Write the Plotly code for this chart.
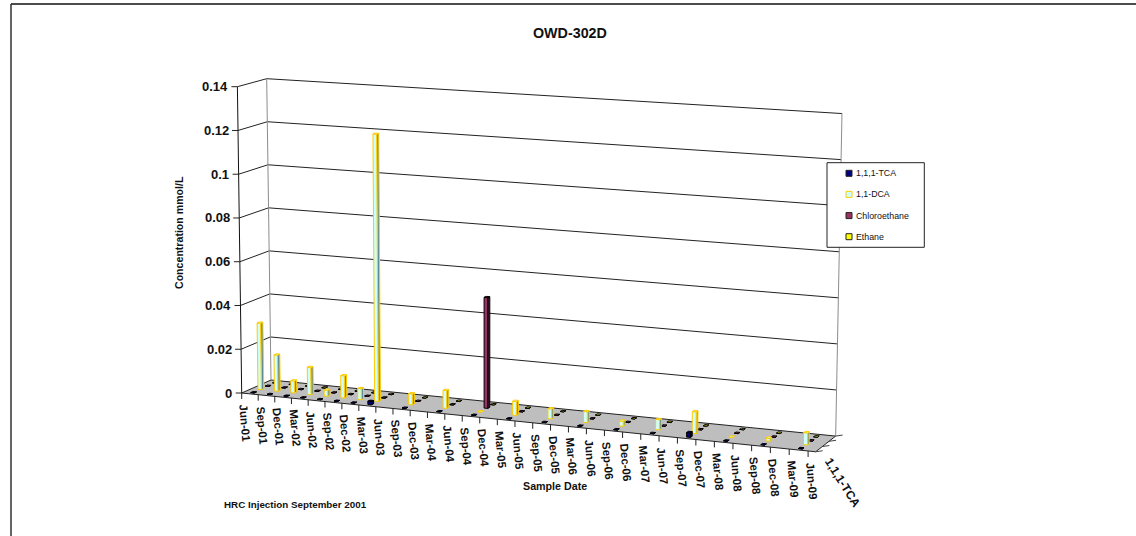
import plotly.graph_objects as go

# ---------- data ----------
date_labels = ["Jun-01","Sep-01","Dec-01","Mar-02","Jun-02","Sep-02","Dec-02","Mar-03","Jun-03",
               "Sep-03","Dec-03","Mar-04","Jun-04","Sep-04","Dec-04","Mar-05","Jun-05","Sep-05",
               "Dec-05","Mar-06","Jun-06","Sep-06","Dec-06","Mar-07","Jun-07","Sep-07","Dec-07",
               "Mar-08","Jun-08","Sep-08","Dec-08","Mar-09","Jun-09"]
N = None
tca =    [N,0,0,0,0,0,0,0,0.0015,N,0,N,0,N,0,N,0,N,0,N,0,N,0,N,0,N,0.002,N,0,N,0,N,0]
dca =    [N,0.0305,0.0166,0.0055,0.0124,0.0028,0.0101,0.005,0.121,N,0.005,N,0.008,N,0,N,0.0062,N,
          0.0045,N,0.0048,N,0.0022,N,0.0045,N,0.0095,N,0,N,0.0012,N,0.0052]
chloro = [N,0,0,0,0,0,0,0,0,N,0,N,0,N,0.0497,N,0,N,0,N,0,N,0,N,0,N,0,N,0,N,0,N,0]
ethane = [N,0,0,0,0,0,0,0,0,N,0,N,0,N,0,N,0,N,0,N,0,N,0,N,0,N,0,N,0,N,0,N,0]
value_ticks = [0,0.02,0.04,0.06,0.08,0.1,0.12,0.14]
value_tick_text = ["0","0.02","0.04","0.06","0.08","0.1","0.12","0.14"]
title = "OWD-302D"
y_title = "Concentration mmol/L"
x_title = "Sample Date"
note = "HRC Injection September 2001"
depth_label = "1,1,1-TCA"

# ---------- 3-D box projection ----------
VMAX = 0.14
F0, F1, B0, B1 = (241.7,393.0), (815.0,451.7), (271.0,380.0), (835.0,436.0)
TF0, TF1, TB0, TB1 = (237.4,86.7), (821.5,124.0), (266.7,78.7), (841.3,113.5)

def cat_t(k):
    return (16.46*k + 0.03875*k*k)/573.3

def proj(k, v, val):
    t, w = cat_t(k), val/VMAX
    out = []
    for i in (0, 1):
        low = (F0[i]*(1-t)+F1[i]*t)*(1-v) + (B0[i]*(1-t)+B1[i]*t)*v
        top = (TF0[i]*(1-t)+TF1[i]*t)*(1-v) + (TB0[i]*(1-t)+TB1[i]*t)*v
        out.append(low*(1-w)+top*w)
    return out

fig = go.Figure()

def poly(points, fill, line, lw=1, name=None):
    xs, ys = [], []
    for ring in points:
        for p in ring + [ring[0]]:
            xs.append(p[0]); ys.append(p[1])
        xs.append(None); ys.append(None)
    fig.add_trace(go.Scatter(x=xs, y=ys, mode="lines", fill="toself", fillcolor=fill,
                             line=dict(color=line, width=lw), hoverinfo="skip",
                             showlegend=False, name=name))

def seg(pairs, color, lw=1, name=None):
    xs, ys = [], []
    for a, b in pairs:
        xs += [a[0], b[0], None]; ys += [a[1], b[1], None]
    fig.add_trace(go.Scatter(x=xs, y=ys, mode="lines", line=dict(color=color, width=lw),
                             hoverinfo="skip", showlegend=False, name=name))

KEND = 32.4
# floor
poly([[proj(0,0,0), proj(KEND,0,0), proj(KEND,1,0), proj(0,1,0)]], "#BEBEBE", "#222222", 1, "floor")
# gridlines on the two walls
grid = []
for tv in value_ticks[1:]:
    grid.append((proj(0,0,tv), proj(0,1,tv)))
    grid.append((proj(0,1,tv), proj(KEND,1,tv)))
seg(grid, "#222222", 1, "grid")
seg([(proj(0,1,0), proj(0,1,VMAX)), (proj(KEND,1,0), proj(KEND,1,VMAX))], "#8C8C8C", 1, "wall edges")
seg([(proj(0,0,0), proj(0,0,VMAX))], "#111111", 1, "value axis")

# value ticks and labels
vt = []
for tv, txt in zip(value_ticks, value_tick_text):
    p = proj(0,0,tv)
    vt.append(((p[0]-6, p[1]), p))
    fig.add_annotation(x=p[0]-7.5, y=p[1], text="<b>%s</b>" % txt, showarrow=False, xanchor="right", yanchor="middle",
                       font=dict(family="Liberation Sans", size=13, color="#111111"))
seg(vt, "#222222", 1, "value ticks")

# category ticks and labels
ct = []
for k, lab in enumerate(date_labels):
    p = proj(k,0,0)
    ct.append((p, (p[0], p[1]+6)))
    fig.add_annotation(x=p[0]+3.5, y=p[1]+9, text="<b>%s</b>" % lab, showarrow=False, textangle=85,
                       xanchor="center", yanchor="top",
                       font=dict(family="Liberation Sans", size=11.5, color="#111111"))
seg(ct, "#222222", 1, "category ticks")

# depth ticks
dt = []
for v in (0, 1/3, 2/3, 1):
    p = proj(KEND,v,0)
    dt.append((p, (p[0]+7, p[1]-1)))
seg(dt, "#444444", 1, "depth ticks")

# bars, back to front
HW, HD = 0.105, 0.04
def bars(vals, v, front, side, top, edge, name, lw=1):
    fr, si, tp = [], [], []
    for k, val in enumerate(vals):
        if val is None:
            continue
        c = k-0.5
        a, b = c-HW, c+HW
        fr.append([proj(a,v-HD,0), proj(b,v-HD,0), proj(b,v-HD,val), proj(a,v-HD,val)])
        si.append([proj(b,v-HD,0), proj(b,v+HD,0), proj(b,v+HD,val), proj(b,v-HD,val)])
        tp.append([proj(a,v-HD,val), proj(b,v-HD,val), proj(b,v+HD,val), proj(a,v+HD,val)])
    poly(si, side, edge, lw, name)
    poly(fr, front, edge, lw, name)
    poly(tp, top, edge, lw, name)

bars(ethane, 0.875, "#FFFF00", "#808000", "#FFFF00", "#000000", "Ethane")
bars(chloro, 0.625, "#993366", "#4D1A33", "#993366", "#000000", "Chloroethane")
bars(dca,    0.375, "#CCFFFF", "#5F8A99", "#CCFFFF", "#FFCC00", "1,1-DCA")
bars(tca,    0.125, "#000080", "#000040", "#000080", "#000000", "1,1,1-TCA")

# legend box
LX0, LX1, LY0, LY1 = 827, 924.3, 162.7, 247.3
poly([[(LX0,LY0),(LX1,LY0),(LX1,LY1),(LX0,LY1)]], "#FFFFFF", "#222222", 1, "legend box")
legend_names = ["1,1,1-TCA","1,1-DCA","Chloroethane","Ethane"]
legend_fill = ["#000080","#CCFFFF","#993366","#FFFF00"]
legend_edge = ["#222222","#FFCC00","#222222","#222222"]
legend_y = [173.3,194.4,215.6,236.7]
for nm, fc, ec, ly in zip(legend_names, legend_fill, legend_edge, legend_y):
    poly([[(846,ly-3),(852,ly-3),(852,ly+3),(846,ly+3)]], fc, ec, 1, nm)
    fig.add_annotation(x=854.3, y=ly, text=nm, showarrow=False, xanchor="left", yanchor="middle",
                       font=dict(family="Liberation Sans", size=8.8, color="#111111"))

# texts
def label(x, y, txt, size, angle=0):
    fig.add_annotation(x=x, y=y, text="<b>%s</b>" % txt, showarrow=False, textangle=angle,
                       xanchor="center", yanchor="middle",
                       font=dict(family="Liberation Sans", size=size, color="#111111"))
label(570, 33, title, 14.3)
label(179, 233, y_title, 10.6, -90)
label(555, 485.7, x_title, 10.7)
label(295, 504, note, 9.8)
label(843, 482.7, depth_label, 12, 58)

fig.update_layout(
    width=1136, height=536, margin=dict(l=0,r=0,t=0,b=0),
    paper_bgcolor="#FFFFFF", plot_bgcolor="#FFFFFF", showlegend=False,
    xaxis=dict(range=[0,1136], visible=False, fixedrange=True),
    yaxis=dict(range=[536,0], visible=False, fixedrange=True),
    shapes=[
        dict(type="line", xref="x", yref="y", x0=11, x1=11, y0=4, y1=536, line=dict(color="#111111", width=1.3)),
        dict(type="line", xref="x", yref="y", x0=11, x1=1136, y0=4, y1=4, line=dict(color="#111111", width=1.3)),
    ],
)
fig.write_html("out.html", config=dict(displayModeBar=False),
               post_script="document.body.style.margin='0';document.body.style.overflow='hidden';")
